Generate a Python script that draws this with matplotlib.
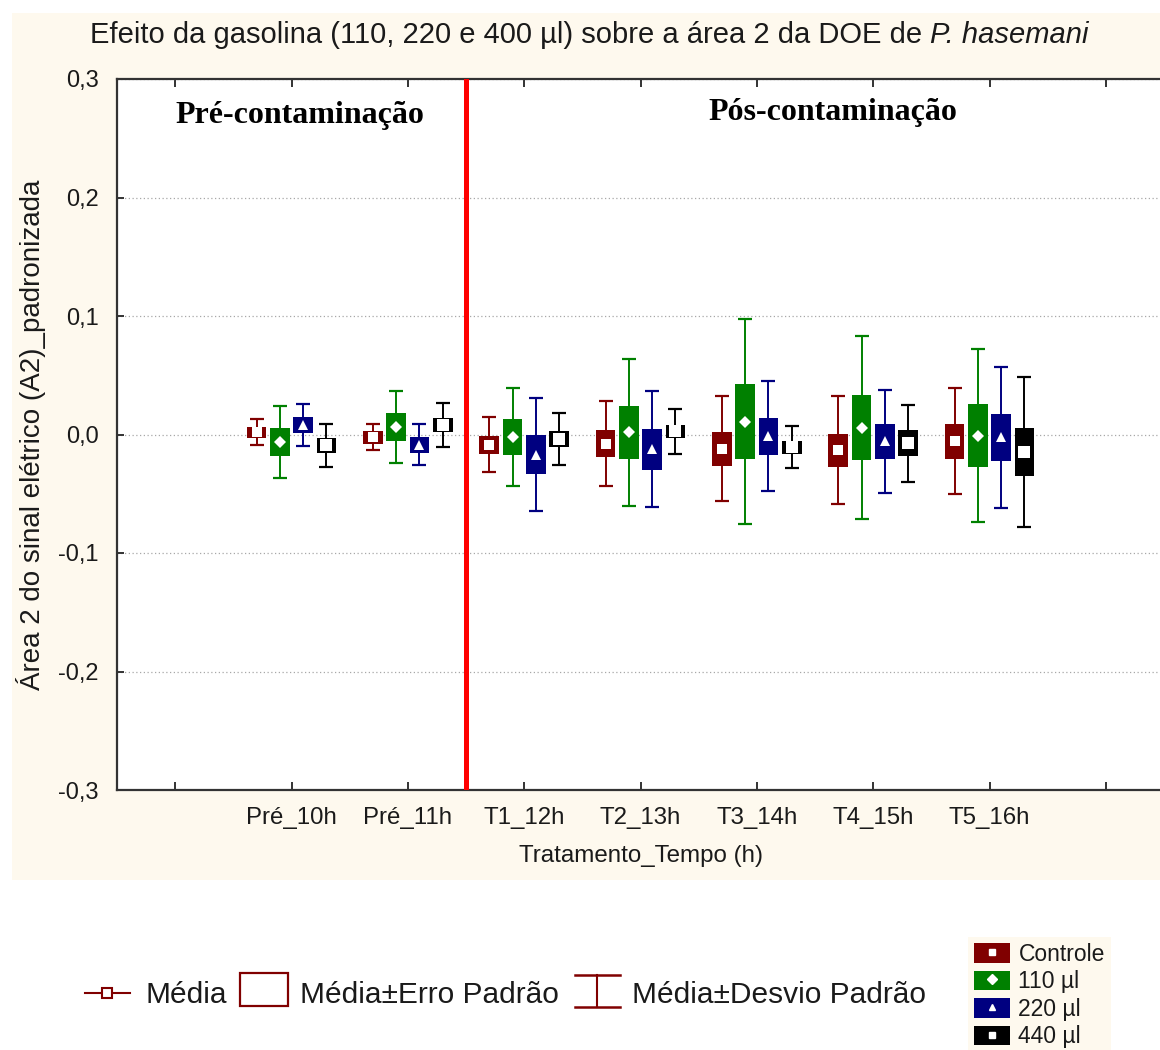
import numpy as np
import matplotlib
matplotlib.use('Agg')
import matplotlib.pyplot as plt
from matplotlib.patches import Rectangle, Patch
from matplotlib.lines import Line2D
from matplotlib.legend_handler import HandlerTuple

plt.rcParams['font.family'] = ['Liberation Sans', 'DejaVu Sans']

# =========================================================
#                           data
# =========================================================
tempos = ['Pré_10h', 'Pré_11h', 'T1_12h', 'T2_13h', 'T3_14h', 'T4_15h', 'T5_16h']
grupos = ['Controle', '110 µl', '220 µl', '440 µl']

media_controle = [0.0020, -0.0022, -0.0085, -0.0076, -0.0120, -0.0134, -0.0058]
erro_controle = [0.0047, 0.0054, 0.0076, 0.0115, 0.0144, 0.0140, 0.0149]
desvio_controle = [0.0111, 0.0111, 0.0230, 0.0359, 0.0442, 0.0456, 0.0448]

media_110 = [-0.0064, 0.0062, -0.0023, 0.0019, 0.0109, 0.0059, -0.0010]
erro_110 = [0.0115, 0.0116, 0.0151, 0.0225, 0.0316, 0.0275, 0.0265]
desvio_110 = [0.0307, 0.0305, 0.0413, 0.0620, 0.0864, 0.0775, 0.0730]

media_220 = [0.0080, -0.0086, -0.0169, -0.0124, -0.0015, -0.0059, -0.0024]
erro_220 = [0.0067, 0.0066, 0.0162, 0.0172, 0.0158, 0.0148, 0.0199]
desvio_220 = [0.0175, 0.0175, 0.0474, 0.0490, 0.0466, 0.0435, 0.0594]

media_440 = [-0.0092, 0.0080, -0.0037, 0.0027, -0.0106, -0.0073, -0.0149]
erro_440 = [0.0066, 0.0059, 0.0068, 0.0056, 0.0055, 0.0107, 0.0204]
desvio_440 = [0.0180, 0.0186, 0.0220, 0.0189, 0.0180, 0.0325, 0.0634]

yticks = [-0.3, -0.2, -0.1, 0.0, 0.1, 0.2, 0.3]
ytick_labels = ['-0,3', '-0,2', '-0,1', '0,0', '0,1', '0,2', '0,3']

# =========================================================
#                           style
# =========================================================
W, H = 1160, 1050
cores = ['#800000', '#008000', '#000080', '#000000']
marcadores = ['s', 'D', '^', 's']
tam_marc = [6.5, 6.0, 7.0, 8.5]
desloc = [-0.3, -0.1, 0.1, 0.3]
bege = '#fef9ee'
cor_txt = '#1a1a1a'


def px(x, y):
    # pixel position -> figure fraction
    return x / W, 1 - y / H


fig = plt.figure(figsize=(W / 100, H / 100), dpi=100)
fig.patches.append(Rectangle(px(12, 880), (W - 12) / W, (880 - 13) / H,
                             transform=fig.transFigure, facecolor=bege,
                             edgecolor='none', zorder=-5))

left, bottom = px(117, 790)
ax = fig.add_axes([left, bottom, (1164 - 117) / W, (790 - 79) / H])
ax.set_facecolor('white')

x = np.arange(1, len(tempos) + 1)
series = [(media_controle, erro_controle, desvio_controle),
          (media_110, erro_110, desvio_110),
          (media_220, erro_220, desvio_220),
          (media_440, erro_440, desvio_440)]

for k, (m, se, sd) in enumerate(series):
    m = np.array(m); se = np.array(se); sd = np.array(sd)
    xk = x + desloc[k]
    ax.errorbar(xk, m, yerr=sd, fmt='none', ecolor=cores[k], elinewidth=1.4,
                capsize=5, capthick=1.6, zorder=2)
    ax.bar(xk, 2 * se, bottom=m - se, width=0.17, color=cores[k],
           edgecolor='none', zorder=3)
    ax.plot(xk, m, ls='none', marker=marcadores[k], markersize=tam_marc[k],
            markerfacecolor='white', markeredgecolor='white', markeredgewidth=0,
            zorder=4)

# division pre / post contamination
ax.axvline(2.5, color='#ff0000', lw=3.6, zorder=5)
ax.text(1.07, 0.269, 'Pré-contaminação', ha='center', va='center',
        family='Liberation Serif', weight='bold', fontsize=23, color='black')
ax.text(5.65, 0.272, 'Pós-contaminação', ha='center', va='center',
        family='Liberation Serif', weight='bold', fontsize=23, color='black')

ax.set_xlim(-0.5, 8.5)
ax.set_ylim(-0.3, 0.3)
ax.set_xticks(np.arange(0, 9))
ax.set_xticklabels([''] + tempos + [''])
ax.set_yticks(yticks)
ax.set_yticklabels(ytick_labels)
ax.tick_params(axis='x', direction='in', top=True, bottom=True, length=6,
               width=1.4, color='#333333', labelsize=17.3, labelcolor=cor_txt, pad=12)
ax.tick_params(axis='y', direction='in', left=True, right=False, length=5,
               width=1.4, color='#333333', labelsize=17, labelcolor=cor_txt, pad=13)
ax.yaxis.grid(True, color='#a8a8a8', lw=0.9, ls=(0, (1, 2)))
ax.set_axisbelow(True)
for s in ax.spines.values():
    s.set_color('#333333')
    s.set_linewidth(1.6)

ax.set_xlabel('Tratamento_Tempo (h)', fontsize=17.4, color=cor_txt, labelpad=12)
ax.set_ylabel('Área 2 do sinal elétrico (A2)_padronizada', fontsize=20,
              color=cor_txt, labelpad=9)

# title with italic species name
t1 = fig.text(*px(90, 35), 'Efeito da gasolina (110, 220 e 400 µl) sobre a área 2 da DOE de ',
              ha='left', va='center', fontsize=21, color=cor_txt)
fig.canvas.draw()
ax.annotate('P. hasemani', xy=(1, 0.5), xycoords=t1, ha='left', va='center',
            fontsize=21, style='italic', color=cor_txt)

# legend: mean / standard error / standard deviation
lg = fig.add_axes([0, 0, 1, 1], zorder=-1)
lg.set_xlim(0, W)
lg.set_ylim(H, 0)
lg.axis('off')
dr = '#800000'
lg.plot([85, 130], [993, 993], color=dr, lw=1.5)
lg.plot([107], [993], marker='s', markersize=7, mfc='white', mec=dr, mew=1.5)
lg.text(145, 995, 'Média', fontsize=21.5, va='center', color=cor_txt)
lg.add_patch(Rectangle((240, 973), 48, 33, facecolor='white', edgecolor=dr, lw=1.6))
lg.text(300, 995, 'Média±Erro Padrão', fontsize=21.5, va='center', color=cor_txt)
lg.plot([597, 597], [975, 1007], color=dr, lw=1.5)
lg.plot([575, 620], [975, 975], color=dr, lw=1.8)
lg.plot([575, 620], [1007, 1007], color=dr, lw=1.8)
lg.text(632, 995, 'Média±Desvio Padrão', fontsize=21.5, va='center', color=cor_txt)

# legend: groups
handles = [(Patch(facecolor=c, edgecolor='none'),
            Line2D([], [], ls='none', marker=mk, color='white', markersize=5))
           for c, mk in zip(cores, marcadores)]
leg = fig.legend(handles, grupos, handler_map={tuple: HandlerTuple(ndivide=1)},
                 loc='upper left', bbox_to_anchor=px(968, 937), fontsize=16.5,
                 frameon=True, facecolor=bege, edgecolor='none', fancybox=False,
                 framealpha=1, handlelength=1.6, handleheight=0.95,
                 labelspacing=0.2, handletextpad=0.35, borderpad=0.25,
                 borderaxespad=0)
for t in leg.get_texts():
    t.set_color(cor_txt)

fig.savefig('out.png', dpi=100, facecolor='white')
